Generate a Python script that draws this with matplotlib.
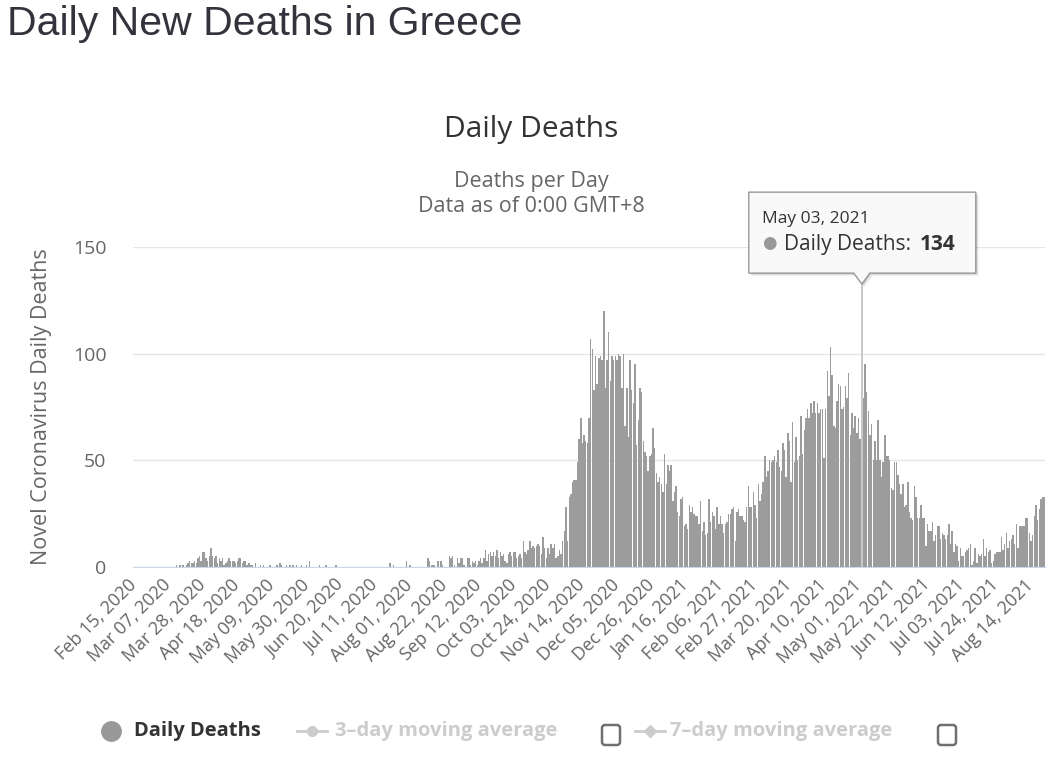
import numpy as np
import pandas as pd
import matplotlib
matplotlib.use("Agg")
import matplotlib.pyplot as plt
from matplotlib.patches import Polygon, FancyBboxPatch
from matplotlib.lines import Line2D
from matplotlib.transforms import IdentityTransform

# daily deaths, one list per month
feb_2020 = [0, 0, 0, 0, 0, 0, 0, 0, 0, 0, 0, 0, 0, 0, 0]
mar_2020 = [0, 0, 0, 0, 0, 0, 0, 0, 0, 0, 0, 1, 0, 1, 0, 1, 0, 1, 2,
            3, 2, 2, 3, 2, 4, 5, 3, 7, 7, 4, 3]
apr_2020 = [5, 9, 5, 4, 5, 2, 4, 3, 4, 1, 2, 3, 4, 3, 3, 3, 2, 3, 4, 4,
            2, 3, 3, 1, 2, 1, 1, 0, 2, 0]
may_2020 = [0, 1, 0, 1, 0, 0, 0, 1, 0, 0, 0, 1, 0, 2, 1, 0, 0, 1, 0, 1,
            0, 1, 0, 1, 0, 0, 1, 0, 0, 1, 0]
jun_2020 = [3, 0, 0, 0, 0, 0, 1, 0, 0, 0, 1, 0, 0, 0, 0, 0, 1, 0, 0, 0,
            0, 0, 0, 0, 0, 0, 0, 0, 0, 0]
jul_2020 = [0, 0, 0, 0, 0, 0, 0, 0, 0, 0, 0, 0, 0, 0, 0, 0, 0, 0, 0, 2,
            0, 1, 0, 0, 0, 0, 0, 0, 0, 3, 0]
aug_2020 = [1, 0, 0, 0, 0, 0, 0, 0, 0, 0, 0, 4, 3, 1, 1, 1, 0, 3, 0, 3,
            1, 0, 0, 0, 5, 4, 5, 1, 0, 4, 2]
sep_2020 = [4, 4, 1, 0, 4, 4, 1, 3, 2, 3, 1, 3, 4, 2, 4, 8, 3, 6, 7, 5,
            7, 5, 8, 4, 7, 5, 6, 3, 2, 6]
oct_2020 = [7, 5, 7, 7, 4, 5, 6, 4, 12, 7, 6, 8, 12, 9, 10, 9, 10, 11, 10, 6,
            14, 9, 4, 9, 6, 11, 9, 11, 4, 5, 8]
nov_2020 = [6, 12, 17, 28, 12, 33, 34, 40, 41, 41, 49, 60, 70, 58, 62, 59, 58, 70, 107, 102,
            83, 99, 86, 98, 99, 97, 120, 84, 97, 110]
dec_2020 = [87, 99, 97, 99, 97, 100, 99, 84, 100, 66, 84, 61, 97, 83, 77, 95, 57, 69, 84, 82,
            59, 54, 52, 45, 52, 53, 65, 56, 44, 40, 42]
jan_2021 = [39, 35, 53, 39, 48, 45, 48, 31, 35, 38, 26, 24, 32, 33, 19, 20, 18, 29, 26, 28,
            25, 24, 24, 20, 31, 17, 21, 15, 16, 32, 21]
feb_2021 = [26, 24, 18, 28, 20, 24, 20, 16, 20, 21, 25, 25, 27, 28, 12, 26, 27, 24, 24, 22,
            21, 28, 38, 28, 28, 35, 29, 23]
mar_2021 = [39, 31, 34, 40, 52, 42, 45, 50, 49, 50, 52, 49, 55, 47, 45, 58, 55, 42, 63, 59,
            40, 68, 49, 61, 50, 52, 71, 53, 64, 70, 74]
apr_2021 = [70, 77, 72, 78, 72, 77, 72, 74, 74, 51, 74, 92, 80, 103, 90, 66, 65, 78, 86, 85,
            74, 75, 85, 79, 91, 62, 72, 65, 71, 63]
may_2021 = [70, 60, 134, 79, 95, 82, 73, 62, 67, 50, 59, 50, 69, 50, 42, 49, 62, 52, 52, 50,
            37, 36, 49, 49, 43, 39, 34, 39, 28, 29, 40]
jun_2021 = [26, 23, 22, 38, 33, 23, 23, 29, 23, 23, 10, 20, 17, 17, 21, 12, 15, 19, 19, 13,
            16, 15, 13, 15, 20, 11, 17, 7, 11, 10]
jul_2021 = [3, 9, 5, 5, 7, 8, 9, 11, 1, 3, 9, 2, 6, 5, 6, 13, 5, 9, 7, 8,
            2, 3, 6, 7, 7, 7, 14, 8, 11, 16, 9]
aug_2021 = [12, 13, 15, 11, 20, 9, 19, 19, 19, 19, 23, 23, 16, 12, 15, 24, 29, 22, 27, 32,
            33, 33]

deaths = (feb_2020 + mar_2020 + apr_2020 + may_2020 + jun_2020 + jul_2020 + aug_2020
          + sep_2020 + oct_2020 + nov_2020 + dec_2020 + jan_2021 + feb_2021 + mar_2021
          + apr_2021 + may_2021 + jun_2021 + jul_2021 + aug_2021)
dates = pd.date_range("2020-02-15", periods=len(deaths), freq="D")
hover_date = pd.Timestamp("2021-05-03")

W, H = 1062, 765
fig = plt.figure(figsize=(W / 100, H / 100), dpi=100)
plt.rcParams['font.family'] = ['Open Sans', 'DejaVu Sans']

ax = fig.add_axes([133 / W, 1 - 567 / H, (1045 - 133) / W, (567 - 247) / H])
x = np.arange(len(deaths))
hover_idx = int(np.where(dates == hover_date)[0][0])
colors = ['#9c9c9c'] * len(deaths)
colors[hover_idx] = '#c8c8c8'
ax.bar(x, deaths, width=0.88, color=colors, linewidth=0, zorder=2)

ax.set_xlim(-0.5, len(deaths) - 0.5)
ax.set_ylim(0, 150)
ax.set_yticks([0, 50, 100, 150])
ax.grid(axis='y', color='#e6e6e6', linewidth=1, zorder=0)
ax.set_axisbelow(True)
for s in ['top', 'right', 'left']:
    ax.spines[s].set_visible(False)
ax.spines['bottom'].set_color('#ccd6eb')
ax.spines['bottom'].set_zorder(3)
ax.tick_params(axis='y', length=0, pad=19, labelsize=14, labelcolor='#666666')
ax.set_xticks(x[::21])
ax.set_xticklabels(dates[::21].strftime('%b %d, %Y'), rotation=45, ha='right',
                   va='center', rotation_mode='anchor', fontsize=13, color='#666666')
ax.tick_params(axis='x', length=0, pad=11)

fig.text(42 / W, 1 - 407 / H, 'Novel Coronavirus Daily Deaths', rotation=90,
         ha='center', va='center', fontsize=15.5, color='#666666')

# titles
fig.text(7 / W, 1 - 24 / H, 'Daily New Deaths in Greece', fontsize=29.5,
         color='#33333d', va='center', family='Liberation Sans')
fig.text(0.5, 1 - 129 / H, 'Daily Deaths', fontsize=21.5, color='#333333',
         ha='center', va='center')
fig.text(0.5, 1 - 181 / H, 'Deaths per Day', fontsize=15.5, color='#666666',
         ha='center', va='center')
fig.text(0.5, 1 - 207 / H, 'Data as of 0:00 GMT+8', fontsize=15.5, color='#666666',
         ha='center', va='center')

# tooltip anchored at the hovered bar
fig.canvas.draw()
px, py = ax.transData.transform((hover_idx, deaths[hover_idx]))
L, R = px - 113, px + 114
T, B = py + 89, py + 8
outline = [(L, B), (px - 8, B), (px, B - 11), (px + 8, B), (R, B), (R, T), (L, T)]
for off, a in [(3, 0.05), (2, 0.08), (1, 0.12)]:
    fig.add_artist(Polygon([(vx + off, vy - off) for vx, vy in outline], closed=True,
                           transform=IdentityTransform(), facecolor='black', alpha=a,
                           edgecolor='none', zorder=9))
fig.add_artist(Polygon(outline, closed=True, transform=IdentityTransform(),
                       facecolor='#f9f9f9', edgecolor='#999999', linewidth=1, zorder=10))
fig.text(L + 13, T - 27, hover_date.strftime('%b %d, %Y'), transform=IdentityTransform(),
         fontsize=12.5, color='#333333', va='center', zorder=11)
fig.text(L + 13, T - 52, '\u25cf', transform=IdentityTransform(), fontsize=12,
         color='#999999', va='center', zorder=11)
lab = fig.text(L + 35, T - 52, 'Daily Deaths:', transform=IdentityTransform(),
               fontsize=15, color='#333333', va='center', zorder=11)
fig.canvas.draw()
bb = lab.get_window_extent()
fig.text(bb.x1 + 9, T - 52, str(deaths[hover_idx]), transform=IdentityTransform(),
         fontsize=15, color='#333333', va='center', fontweight='bold', zorder=11)

# legend
def iy(v):
    return H - v

fig.add_artist(Line2D([111], [iy(731)], marker='o', markersize=14, color='#999999',
                      transform=IdentityTransform()))
fig.text(134, iy(731), 'Daily Deaths', transform=IdentityTransform(), fontsize=14.5,
         fontweight='bold', color='#333333', va='center')
fig.add_artist(Line2D([297, 327], [iy(731), iy(731)], color='#cccccc', linewidth=2,
                      transform=IdentityTransform()))
fig.add_artist(Line2D([312], [iy(731)], marker='o', markersize=7, color='#cccccc',
                      transform=IdentityTransform()))
fig.text(335, iy(731), '3\u2013day moving average', transform=IdentityTransform(),
         fontsize=14.5, fontweight='bold', color='#cccccc', va='center')
fig.add_artist(Line2D([635, 665], [iy(731), iy(731)], color='#cccccc', linewidth=2,
                      transform=IdentityTransform()))
fig.add_artist(Line2D([650], [iy(731)], marker='D', markersize=6, color='#cccccc',
                      transform=IdentityTransform()))
fig.text(670, iy(731), '7\u2013day moving average', transform=IdentityTransform(),
         fontsize=14.5, fontweight='bold', color='#cccccc', va='center')
for cx in [611, 947]:
    fig.add_artist(FancyBboxPatch((cx - 9, iy(745)), 18, 20,
                                  boxstyle='round,pad=0,rounding_size=3',
                                  transform=IdentityTransform(), facecolor='white',
                                  edgecolor='#707070', linewidth=1.8))

fig.savefig('out.png', dpi=100)
